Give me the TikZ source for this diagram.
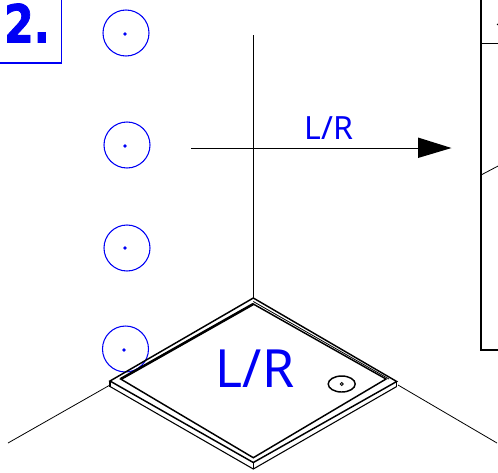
\documentclass[tikz,border=0pt]{standalone}
\usepackage{fontspec}
\setmainfont{Noto Sans}
\newfontfamily\tagfont{DejaVu Sans}
\definecolor{lblue}{RGB}{0,0,245}
\begin{document}
\begin{tikzpicture}[x=0.75pt,y=-0.75pt,
  bub/.style={draw=lblue,line width=0.8pt,circle,minimum size=34.5pt,inner sep=0pt},
  dotmark/.style={fill=lblue,circle,minimum size=2.8pt,inner sep=0pt},
  thin line/.style={draw=black,line width=0.6pt},
  edgeline/.style={draw=black,line width=1.1pt,line join=miter},
  lab/.style={text=lblue,inner sep=0pt}]
\useasboundingbox (0,0) rectangle (498,472);
% tag
\draw[lblue,line width=1pt] (-2,63) -- (61.5,63) -- (61.5,-2);
\node[lab,font=\tagfont\bfseries\fontsize{31}{31}\selectfont,xscale=1.03,yscale=1.27] (tag) at (27,23) {\special{pdf:literal q 2 Tr 0 0 0.96 RG 0.5 w}2.\special{pdf:literal Q}};
% bubbles
\node[bub] (b1) at (126,33) {};
\node[bub] (b2) at (127,145) {};
\node[bub] (b3) at (127,248) {};
\node[bub] (b4) at (125.5,349) {};
\node[dotmark] at (125,34) {};
\node[dotmark] at (125,146) {};
\node[dotmark] at (125,248) {};
\node[dotmark] at (124,350) {};
% walls
\draw[thin line] (253.3,35) -- (253.3,298);
\draw[thin line] (8,443) -- (110,385);
\draw[thin line] (398,385) -- (497,443);
% arrow
\coordinate (as) at (191,148);
\coordinate (ae) at (418,148);
\draw[thin line] (as) -- (ae);
\fill[black] (418,137.5) -- (451.5,148) -- (418,158) -- cycle;
\node[lab,font=\fontsize{24}{24}\selectfont] (lr1) at (329,128) {L/R};
% tray
\draw[edgeline] (110,381) -- (253.3,298) -- (396.7,381.5) -- (253.3,462.5) -- cycle;
\draw[edgeline] (110,381) -- (110,386.5);
\draw[edgeline] (396.7,381.5) -- (396.7,386.5);
\draw[thin line] (253.3,462.5) -- (253.3,469);
\draw[line width=0.8pt] (110,386.5) -- (253.3,469) -- (396.7,386.5);
\draw[edgeline] (120.7,379) -- (253.3,304) -- (386,379) -- (253.3,457.7) -- cycle;
\draw[line width=1.9pt] (120.7,379) -- (253.3,304);
\draw[thin line] (253.3,301.5) -- (389,379);
\node[lab,font=\fontsize{39.5}{40}\selectfont,xscale=0.98] (lr2) at (255,368.5) {L/R};
% drain
\draw[edgeline] (341.7,384) ellipse (13.5 and 8);
\draw[line width=0.7pt] (341.8,384) circle (1.5);
% box at right
\draw[line width=1.1pt] (481,-2) -- (481,350) -- (500,350);
\draw[line width=1pt] (481,43.5) -- (500,43.5);
\draw[thin line] (481,175) -- (500,165);
\draw[thin line] (497,25) -- (499,23);
\end{tikzpicture}
\end{document}
